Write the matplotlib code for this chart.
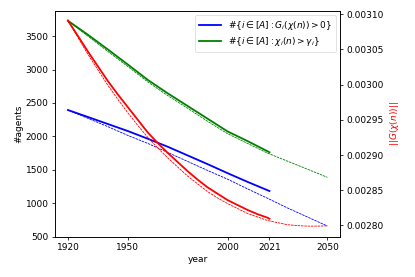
import matplotlib
matplotlib.use("Agg")
import matplotlib.pyplot as plt
from matplotlib.ticker import FormatStrFormatter

# observed (solid) series, 1920-2021
years_obs = [1920, 1930, 1940, 1950, 1960, 1970, 1980, 1990, 2000, 2010, 2020, 2021]
blue_obs = [2394, 2290, 2185, 2080, 1965, 1845, 1715, 1585, 1450, 1320, 1195, 1183]
green_obs = [3729, 3520, 3300, 3075, 2845, 2644, 2454, 2264, 2074, 1930, 1778, 1762]

years_red_obs = [1920, 1925, 1930, 1935, 1940, 1945, 1950, 1955, 1960, 1965, 1970, 1975,
                 1980, 1985, 1990, 1995, 2000, 2005, 2010, 2015, 2020, 2021]
red_obs = [0.003091, 0.003069, 0.003047, 0.003026, 0.003005, 0.002986, 0.002968, 0.002950,
           0.002932, 0.002917, 0.002903, 0.002890, 0.002877, 0.002865, 0.002854, 0.002845,
           0.002836, 0.002829, 0.002822, 0.002816, 0.002811, 0.0028095]

# projected (dashed) series, 1920-2050
years_proj = [1920, 1930, 1940, 1950, 1960, 1970, 1980, 1990, 2000, 2010, 2020, 2030, 2040, 2050]
blue_proj = [2394, 2270, 2145, 2015, 1895, 1760, 1625, 1490, 1360, 1215, 1075, 930, 795, 660]
green_proj = [3729, 3500, 3270, 3045, 2815, 2610, 2420, 2225, 2040, 1895, 1750, 1630, 1510, 1388]

years_red_proj = [1920, 1925, 1930, 1935, 1940, 1945, 1950, 1955, 1960, 1965, 1970, 1975,
                  1980, 1985, 1990, 1995, 2000, 2005, 2010, 2015, 2020, 2025, 2030, 2035,
                  2040, 2045, 2050]
red_proj = [0.003091, 0.003067, 0.003043, 0.003021, 0.002999, 0.002979, 0.002960, 0.002942,
            0.002925, 0.002910, 0.002896, 0.002883, 0.002870, 0.002859, 0.002848, 0.002839,
            0.002831, 0.002824, 0.002817, 0.002812, 0.002807, 0.002804, 0.002801, 0.0027998,
            0.0027990, 0.0027990, 0.0027995]

xticks = [1920, 1950, 2000, 2021, 2050]
labels = [r'$\#\{i \in [A]: G_i(\chi(n)) > 0\}$', r'$\#\{i \in [A]: \chi_i(n) > \gamma_i\}$']

fs = 6.5
plt.rcParams['font.size'] = fs
plt.rcParams['axes.linewidth'] = 0.55
plt.rcParams['xtick.major.width'] = 0.55
plt.rcParams['ytick.major.width'] = 0.55
plt.rcParams['xtick.major.size'] = 2.3
plt.rcParams['ytick.major.size'] = 2.3
plt.rcParams['xtick.major.pad'] = 2.3
plt.rcParams['ytick.major.pad'] = 2.3

fig = plt.figure(figsize=(4.15, 2.77), dpi=100)
ax = fig.add_axes([0.1325, 0.1455, 0.6875, 0.816])
ax2 = ax.twinx()

lw_s = 1.3
lw_d = 0.6
ax.plot(years_obs, blue_obs, color='blue', lw=lw_s, label=labels[0])
ax.plot(years_obs, green_obs, color='green', lw=lw_s, label=labels[1])
ax.plot(years_proj, blue_proj, color='blue', lw=lw_d, ls='--', dashes=(3, 1))
ax.plot(years_proj, green_proj, color='green', lw=lw_d, ls='--', dashes=(3, 1))
ax2.plot(years_red_obs, red_obs, color='red', lw=lw_s)
ax2.plot(years_red_proj, red_proj, color='red', lw=lw_d, ls='--', dashes=(3, 1))

ax.set_xlim(1913.5, 2056.5)
ax.set_ylim(500, 3880)
ax2.set_ylim(0.002784, 0.003105)
ax.set_xticks(xticks)
ax.set_yticks([500, 1000, 1500, 2000, 2500, 3000, 3500])
ax2.set_yticks([0.00280, 0.00285, 0.00290, 0.00295, 0.00300, 0.00305, 0.00310])
ax2.yaxis.set_major_formatter(FormatStrFormatter('%.5f'))

ax.set_xlabel('year', fontsize=fs, labelpad=2)
ax.set_ylabel('#agents', fontsize=fs, labelpad=2)
ax2.set_ylabel(r'$||G(\chi(n))||$', color='red', fontsize=fs, labelpad=3)

leg = ax.legend(loc='upper right', fontsize=fs, handlelength=2.4,
                borderpad=0.4, labelspacing=0.4, framealpha=0.8)
leg.get_frame().set_linewidth(0.5)

fig.savefig('out.png', dpi=100)
